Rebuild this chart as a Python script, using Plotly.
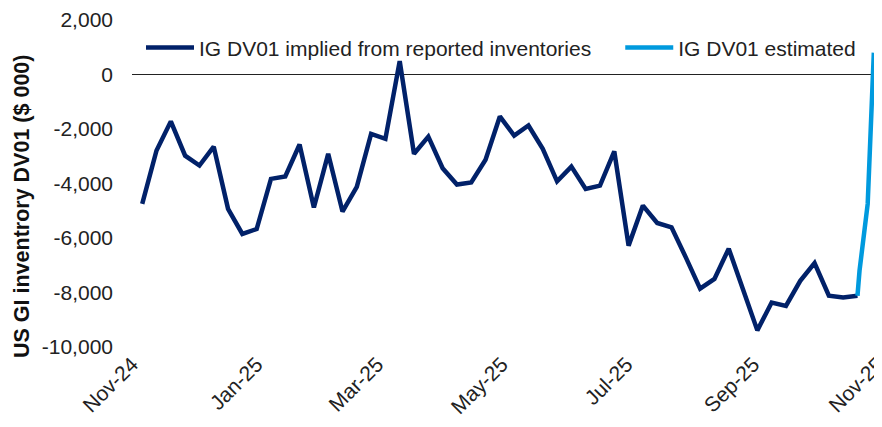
import plotly.graph_objects as go
import pandas as pd

# Weekly dates for the reported series
reported_dates = pd.date_range("2024-11-06", periods=51, freq="7D").strftime("%Y-%m-%d").tolist()
reported_values = [
    -4750, -2790, -1720, -2980, -3340, -2650, -4930, -5850, -5670, -3830,
    -3740, -2570, -4880, -2910, -5030, -4120, -2180, -2360, 490, -2910,
    -2280, -3440, -4040, -3960, -3130, -1540, -2240, -1870, -2730, -3920,
    -3380, -4200, -4080, -2820, -6280, -4810, -5450, -5610, -6710, -7860,
    -7500, -6390, -7890, -9390, -8370, -8490, -7570, -6920, -8120, -8180,
    -8120,
]

estimated_dates = ["2025-10-22", "2025-10-23", "2025-10-27", "2025-10-30"]
estimated_values = [-8120, -7200, -4750, 800]

y_tickvals = [2000, 0, -2000, -4000, -6000, -8000, -10000]
y_ticktext = ["2,000", "0", "-2,000", "-4,000", "-6,000", "-8,000", "-10,000"]

x_tickvals = ["2024-11-01", "2025-01-01", "2025-03-01", "2025-05-01",
              "2025-07-01", "2025-09-01", "2025-11-01"]
x_ticktext = ["Nov-24", "Jan-25", "Mar-25", "May-25", "Jul-25", "Sep-25", "Nov-25"]

y_title = "US GI inventrory DV01 ($ 000)"

NAVY = "#012169"
LIGHT = "#009ADE"
FONT = "Liberation Sans, Arial, sans-serif"
FS = 21
TXT = "#222222"

fig = go.Figure()
fig.add_trace(go.Scatter(
    x=reported_dates, y=reported_values, mode="lines",
    name="IG DV01 implied from reported inventories",
    line=dict(color=NAVY, width=4.5), legend="legend",
))
fig.add_trace(go.Scatter(
    x=estimated_dates, y=estimated_values, mode="lines",
    name="IG DV01 estimated",
    line=dict(color=LIGHT, width=4.5), legend="legend2",
))

legend_common = dict(
    orientation="h", xanchor="left", y=0.915, yanchor="middle",
    bgcolor="rgba(0,0,0,0)", font=dict(size=FS, color=TXT),
    itemwidth=48,
)

fig.update_layout(
    template="none",
    width=874, height=411,
    margin=dict(l=124, r=0, t=12, b=72, autoexpand=False),
    paper_bgcolor="white", plot_bgcolor="white",
    font=dict(family=FONT, size=FS, color=TXT),
    showlegend=True,
    legend=dict(x=0.012, **legend_common),
    legend2=dict(x=0.651, **legend_common),
    xaxis=dict(
        type="date", range=["2024-11-01", "2025-11-03"],
        tickvals=x_tickvals, ticktext=x_ticktext, tickangle=-45,
        showgrid=False, zeroline=False, showline=False, ticks="",
        ticklabeloverflow="allow", automargin=False, ticklabelstandoff=0,
        tickfont=dict(size=FS, color=TXT),
    ),
    yaxis=dict(
        range=[-10000, 2000], tickvals=y_tickvals, ticktext=y_ticktext,
        showgrid=False, zeroline=True, zerolinecolor=TXT, zerolinewidth=1.3,
        showline=False, ticks="", ticklabelstandoff=18,
        ticklabeloverflow="allow", automargin=False,
        tickfont=dict(size=FS, color=TXT),
    ),
    annotations=[dict(
        text="<b>" + y_title + "</b>", textangle=-90,
        xref="paper", yref="paper", x=-0.1467, y=0.431,
        xanchor="center", yanchor="middle", showarrow=False,
        font=dict(size=21.5, color="#111111", family=FONT),
    )],
)

fig.write_html("out.html")
